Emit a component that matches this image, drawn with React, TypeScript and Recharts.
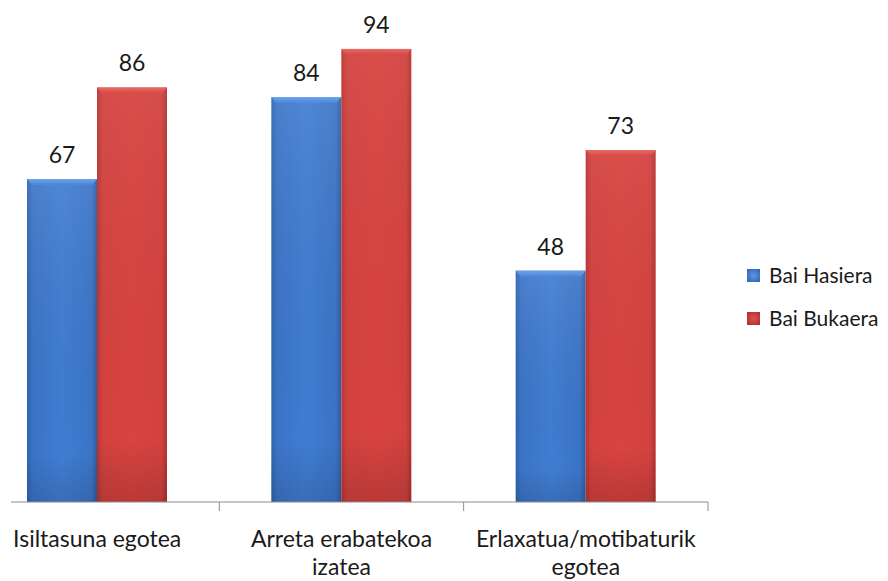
import React from 'react';
import { ComposedChart, Bar, XAxis, YAxis, LabelList } from 'recharts';

const categories = ['Isiltasuna egotea', 'Arreta erabatekoa izatea', 'Erlaxatua/motibaturik egotea'];
const tickLines = [['Isiltasuna egotea'], ['Arreta erabatekoa', 'izatea'], ['Erlaxatua/motibaturik', 'egotea']];
const hasiera = [67, 84, 48];
const bukaera = [86, 94, 73];
const seriesNames = ['Bai Hasiera', 'Bai Bukaera'];

const data = categories.map((c, i) => ({ name: c, idx: i, hasiera: hasiera[i], bukaera: bukaera[i] }));

const FONT = 'Lato, "Open Sans", sans-serif';
const BAND = 244.3;

const BarShape = (props: any) => {
  const { x, y, width, height, fill } = props;
  const id = fill;
  if (!height || height <= 0) return null;
  return (
    <g>
      <rect x={x} y={y} width={width} height={height} fill={`url(#h-${id})`} />
      <rect x={x} y={y} width={width} height={height} fill={`url(#v-${id})`} />
      <polygon points={`${x},${y} ${x + width},${y} ${x + width - 5},${y + 6} ${x + 5},${y + 6}`} fill={`url(#t-${id})`} />
    </g>
  );
};

const Tick = (props: any) => {
  const { x, y, payload } = props;
  const lines = tickLines[payload.index] || [payload.value];
  const bx = x + BAND / 2;
  return (
    <g>
      <line x1={bx} y1={y - 8} x2={bx} y2={y + 1} stroke="#8c8c8c" strokeWidth={1} />
      {lines.map((l: string, i: number) => (
        <text key={i} x={x} y={y + 37 + i * 28} textAnchor="middle" fontSize={23} fontFamily={FONT} fill="#1a1a1a">
          {l}
        </text>
      ))}
    </g>
  );
};

const LegendBox = () => (
  <div style={{ position: 'absolute', left: 739, top: 254, fontFamily: FONT, fontSize: 21, color: '#1a1a1a' }}>
    {seriesNames.map((n, i) => (
      <div key={n} style={{ display: 'flex', alignItems: 'center', height: 26, lineHeight: '26px', marginBottom: i === 0 ? 17 : 0, whiteSpace: 'nowrap' }}>
        <div
          style={{
            width: 13,
            height: 13,
            marginRight: 9,
            flex: 'none',
            background: i === 0
              ? 'radial-gradient(circle, #5b95e6 0%, #2e62b0 100%)'
              : 'radial-gradient(circle, #e0504c 0%, #a82d2a 100%)',
          }}
        />
        <span>{n}</span>
      </div>
    ))}
  </div>
);

export default function App() {
  return (
    <div style={{ position: 'relative', width: 880, height: 573 }}>
      <ComposedChart
        width={880}
        height={573}
        data={data}
        margin={{ top: 12, right: 180, bottom: 0, left: 3 }}
        barCategoryGap={52}
        barGap={0}
      >
        <defs>
          <linearGradient id="h-blue" x1="0" y1="0" x2="1" y2="0">
            <stop offset="0" stopColor="#2f62ad" />
            <stop offset="0.08" stopColor="#3b74c6" />
            <stop offset="0.5" stopColor="#407dd2" />
            <stop offset="0.92" stopColor="#3b74c6" />
            <stop offset="1" stopColor="#2c5ba3" />
          </linearGradient>
          <linearGradient id="v-blue" x1="0" y1="0" x2="0" y2="1">
            <stop offset="0" stopColor="#ffffff" stopOpacity="0.08" />
            <stop offset="0.85" stopColor="#000000" stopOpacity="0" />
            <stop offset="1" stopColor="#000000" stopOpacity="0.12" />
          </linearGradient>
          <linearGradient id="t-blue" x1="0" y1="0" x2="0" y2="1">
            <stop offset="0" stopColor="#6fa3ea" />
            <stop offset="1" stopColor="#4a86d8" />
          </linearGradient>
          <linearGradient id="h-red" x1="0" y1="0" x2="1" y2="0">
            <stop offset="0" stopColor="#b83532" />
            <stop offset="0.08" stopColor="#d2423f" />
            <stop offset="0.5" stopColor="#d8433f" />
            <stop offset="0.92" stopColor="#d2423f" />
            <stop offset="1" stopColor="#b23230" />
          </linearGradient>
          <linearGradient id="v-red" x1="0" y1="0" x2="0" y2="1">
            <stop offset="0" stopColor="#ffffff" stopOpacity="0.06" />
            <stop offset="0.85" stopColor="#000000" stopOpacity="0" />
            <stop offset="1" stopColor="#000000" stopOpacity="0.14" />
          </linearGradient>
          <linearGradient id="t-red" x1="0" y1="0" x2="0" y2="1">
            <stop offset="0" stopColor="#e86a66" />
            <stop offset="1" stopColor="#d84844" />
          </linearGradient>
        </defs>
        <XAxis
          dataKey="name"
          interval={0}
          height={79}
          padding={{ left: -36, right: 0 }}
          axisLine={{ stroke: '#8c8c8c', strokeWidth: 1 }}
          tickLine={false}
          tick={<Tick />}
        />
        <YAxis hide domain={[0, 100]} />
        <Bar dataKey="hasiera" name={seriesNames[0]} fill="blue" isAnimationActive={false} shape={<BarShape />}>
          <LabelList dataKey="hasiera" position="top" offset={16} fontSize={23} fontFamily={FONT} fill="#1a1a1a" />
        </Bar>
        <Bar dataKey="bukaera" name={seriesNames[1]} fill="red" isAnimationActive={false} shape={<BarShape />}>
          <LabelList dataKey="bukaera" position="top" offset={16} fontSize={23} fontFamily={FONT} fill="#1a1a1a" />
        </Bar>
      </ComposedChart>
      <LegendBox />
    </div>
  );
}
